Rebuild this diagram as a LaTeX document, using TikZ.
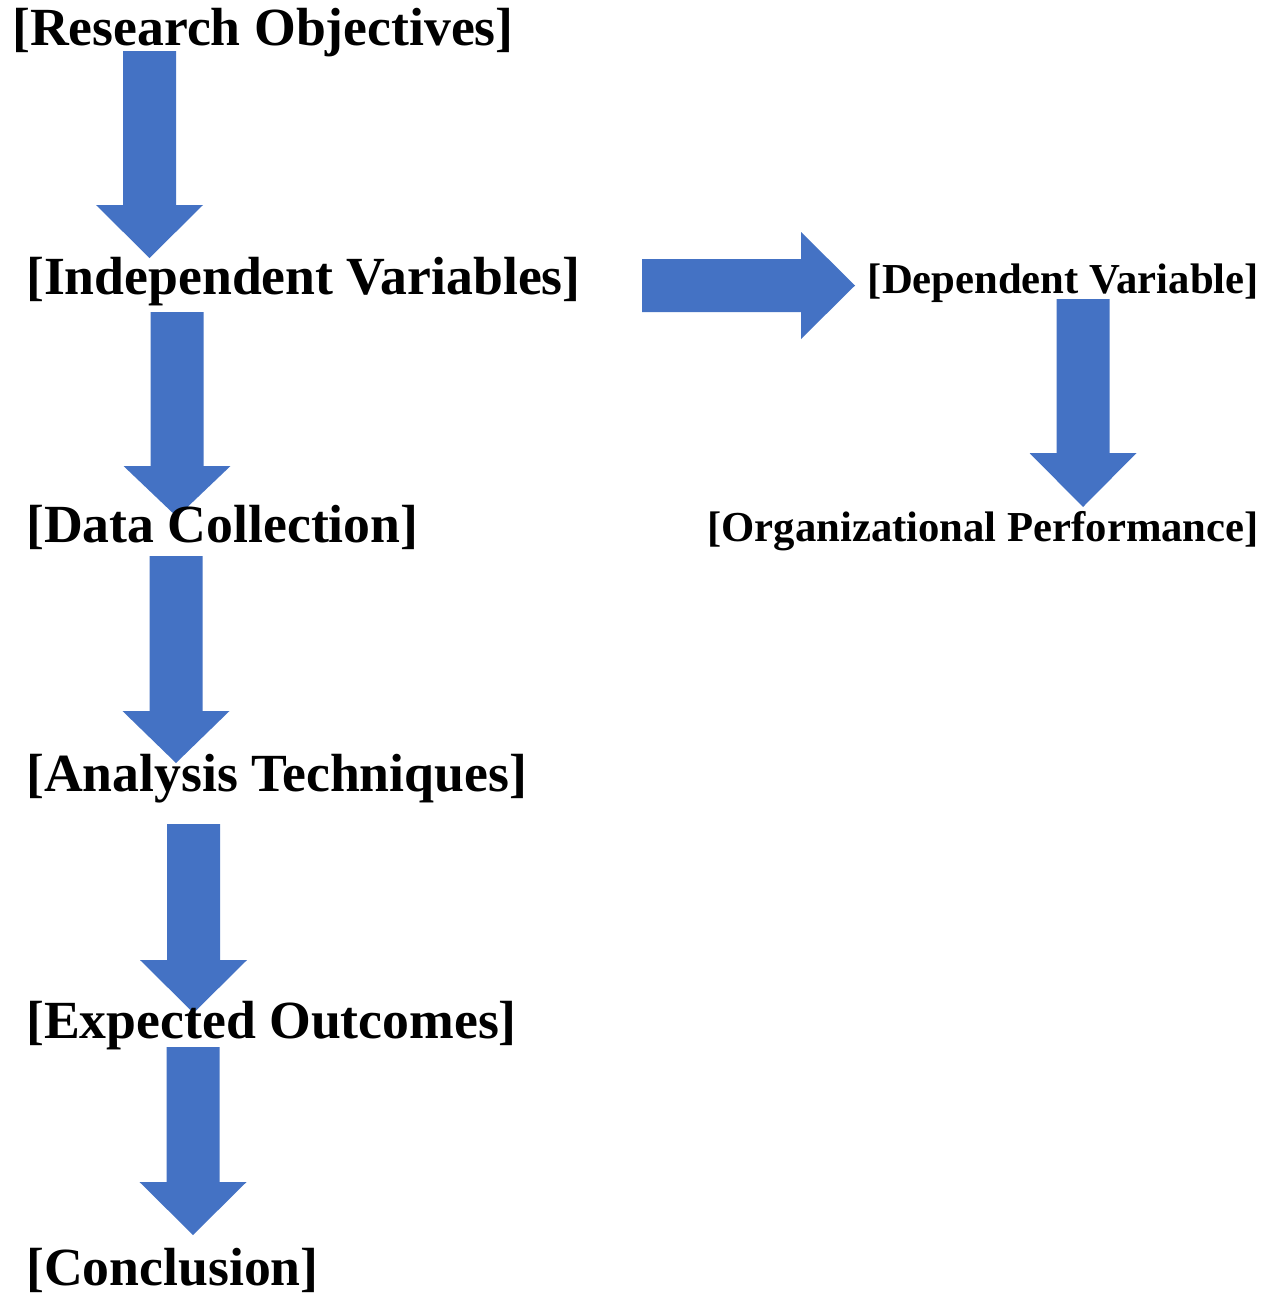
\documentclass[tikz,border=0pt]{standalone}
\usepackage{fontspec}
\setmainfont{Liberation Serif}
\definecolor{arrowblue}{RGB}{68,114,196}
\newcommand{\blkdown}[4]{%
  \fill[arrowblue] ({#1-26.5},{#2}) -- ({#1+26.5},{#2}) -- ({#1+26.5},{#3}) -- ({#1+53.5},{#3}) -- ({#1},{#4}) -- ({#1-53.5},{#3}) -- ({#1-26.5},{#3}) -- cycle;}
\newcommand{\blkright}[4]{%
  \fill[arrowblue] ({#2},{#1-26.5}) -- ({#2},{#1+26.5}) -- ({#3},{#1+26.5}) -- ({#3},{#1+53.5}) -- ({#4},{#1}) -- ({#3},{#1-53.5}) -- ({#3},{#1-26.5}) -- cycle;}
\tikzset{
  bigtext/.style={inner sep=0pt, font=\fontsize{53.7}{60}\selectfont\bfseries, anchor=base west},
  smalltext/.style={inner sep=0pt, font=\fontsize{42.7}{50}\selectfont\bfseries, anchor=base east}
}
\begin{document}
\begin{tikzpicture}[x=1pt,y=-1pt]
\useasboundingbox (0,0) rectangle (1273,1296);
\fill[white] (0,0) rectangle (1273,1296);
% arrows
\blkdown{149.5}{51}{205}{258}
\blkdown{177}{312}{466}{517}
\blkdown{176}{556}{711}{763}
\blkdown{193.5}{824}{960}{1013}
\blkdown{193}{1047}{1182}{1235}
\blkright{285.5}{642}{801}{855}
\blkdown{1083}{299}{453}{507}
% texts
\node[bigtext] (ro) at (12,45) {[Research Objectives]};
\node[bigtext] (iv) at (26,294) {[Independent Variables]};
\node[bigtext] (dc) at (26,542) {[Data Collection]};
\node[bigtext] (at) at (26,791) {[Analysis Techniques]};
\node[bigtext] (eo) at (26,1038) {[Expected Outcomes]};
\node[bigtext] (cc) at (26,1285.5) {[Conclusion]};
\node[smalltext] (dv) at (1259,293.5) {[Dependent Variable]};
\node[smalltext] (op) at (1259,541.5) {[Organizational Performance]};
\end{tikzpicture}
\end{document}
